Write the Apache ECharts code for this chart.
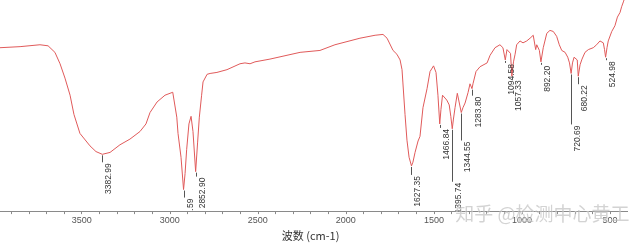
<!DOCTYPE html>
<html><head><meta charset="utf-8">
<script src="https://cdn.jsdelivr.net/npm/echarts@6/dist/echarts.min.js"></script>
<style>
html,body{margin:0;padding:0;background:#fff;overflow:hidden;width:640px;height:246px;}
#wrap{position:relative;width:640px;height:246px;overflow:hidden;}
#chart{position:absolute;left:-7px;top:0;width:647px;height:246px;}
</style></head>
<body><div id="wrap"><div id="chart"></div></div>
<script>
// Wavenumber (cm-1) of traced points, high to low
var wavenumbers = [3964,3850,3737,3691,3652,3623,3595,3566,3544,3510,3453,3419,3382.99,3339,3283,3226,3169,3135,3112,3072,3027,2983,2960,2953,2945,2936,2921.59,2913,2904,2891,2879,2868,2852.90,2842,2832,2819,2811,2788,2771,2732,2675,2601,2573,2544,2516,2431,2260,2147,2062,1920,1834,1789,1766,1732,1710,1692,1681,1676,1664,1653,1641,1627.35,1619,1607,1590,1579,1562,1539,1522,1502,1488,1477,1466.84,1460,1451,1443,1427,1413,1404,1395.74,1389,1380,1367,1356,1344.55,1335,1323,1306,1295,1288,1283.80,1278,1261,1238,1198,1181,1153,1125,1108,1094.58,1085,1074,1065,1057.33,1048,1039,1030,1011,994,973,954,936,926,922,916,901,892.20,879,859,841,822,803,788,774,755,740,730,720.69,713,704,693,686,680.22,670,659,642,623,595,576,557,538,531,524.98,517,510,490,472,458,443,434,424,415,400];
// Transmittance (%, arbitrary scale) at those points
var transmittance = [77.4,77.9,78.8,78.3,75.2,69.8,63.0,54.9,45.8,36.8,30.9,28.2,26.9,27.8,31.4,34.1,37.7,41.3,46.7,51.7,54.9,56.3,44.5,36.8,36.3,25.5,10.2,17.8,29.1,41.3,44.9,37.7,18.7,32.3,44.5,54.9,61.2,64.8,65.2,65.7,67.0,69.8,70.2,69.8,70.7,72.0,75.2,76.1,78.8,81.9,83.3,83.7,81.9,76.1,74.3,71.6,67.0,60.7,45.8,33.6,25.5,21.4,23.2,27.8,33.2,35.4,49.0,58.0,66.1,68.8,65.7,54.9,41.3,48.1,54.9,54.9,52.6,50.3,44.9,39.0,43.6,49.0,55.8,54.9,46.7,49.0,51.2,56.2,60.3,61.2,58.0,60.3,66.1,68.4,70.2,73.8,77.4,78.8,77.4,71.6,76.5,77.4,74.7,63.9,70.7,74.3,78.8,80.6,79.7,80.6,81.9,83.3,82.8,76.5,78.8,76.1,70.7,77.4,84.2,85.6,85.1,82.8,78.8,76.1,75.2,72.9,70.2,65.2,70.2,72.9,73.8,71.6,63.9,69.3,72.0,75.2,76.5,77.4,78.8,80.6,79.7,76.5,72.9,77.4,80.6,85.1,87.8,91.9,94.1,96.8,99.1,101.4,104.5];
// Labelled peaks (cm-1)
var peakWavenumbers = [3382.99,2921.59,2852.90,1627.35,1466.84,1395.74,1344.55,1283.80,1094.58,1057.33,892.20,720.69,680.22,524.98];
// Axis tick labels
var tickLabels = ['3500','3000','2500','2000','1500','1000','500'];
var axisTitle = '波数 (cm-1)';
var watermark = '知乎 @检测中心黄工';

// layout: leader-line lengths (px) below each peak
var leaderLengths = [8,8,5,9,4,53,28,7,3,3,3,51,8,3];

var spectrum = wavenumbers.map(function(w,i){return [w, transmittance[i]];});
var peaks = peakWavenumbers.map(function(w){
  var idx = wavenumbers.indexOf(w);
  return [w, transmittance[idx]];
});
var labelValues = tickLabels.map(Number);
var tickValues = [];
for (var t = 500; t < 4000; t += 100) tickValues.push(t);

var chart = echarts.init(document.getElementById('chart'), null, {renderer:'canvas'});
chart.setOption({
  animation:false,
  backgroundColor:'#fff',
  grid:{left:0.65, right:12.39, top:0, bottom:24.5, containLabel:false},
  xAxis:{
    type:'value', min:400, max:4000, inverse:true,
    name: axisTitle, nameLocation:'middle', nameGap:18,
    nameTextStyle:{color:'#333', fontSize:11, fontFamily:'"Noto Sans CJK SC", sans-serif'},
    axisLine:{show:true, onZero:false, lineStyle:{color:'#8a8a8a', width:1}},
    axisTick:{show:true, customValues:tickValues, length:3, lineStyle:{color:'#8a8a8a'}},
    axisLabel:{show:true, customValues:labelValues, margin:5, color:'#555', fontSize:9, fontFamily:'"Liberation Sans", sans-serif',
      formatter:function(v){return String(v);}},
    splitLine:{show:false}
  },
  yAxis:{type:'value', min:0, max:100, show:false, splitLine:{show:false}},
  graphic:[{
    type:'text', left:462, top:204, silent:true, z:100,
    style:{text:watermark, font:'19px "Noto Sans CJK SC"', fill:'rgba(175,175,175,0.55)', stroke:'rgba(255,255,255,0.6)', lineWidth:0.5}
  }],
  series:[
    {type:'line', data:spectrum, showSymbol:false, symbol:'none', clip:true,
     lineStyle:{color:'#e05a5a', width:1}, z:3},
    {type:'custom', data:peaks, clip:true, z:4,
     encode:{x:0, y:1},
     renderItem:function(params, api){
       var w = api.value(0), tv = api.value(1);
       var p = api.coord([w, tv]);
       var x = Math.round(p[0]) + 0.5;
       var y0 = p[1] + 1;
       var y1 = p[1] + leaderLengths[params.dataIndex];
       return {type:'group', children:[
         {type:'line', shape:{x1:x, y1:y0, x2:x, y2:y1}, style:{stroke:'#555', lineWidth:1}},
         {type:'text', x:x+1.2, y:y1+1, rotation:Math.PI/2,
          style:{text:w.toFixed(2), align:'right', verticalAlign:'top', fill:'#333',
                 font:'8.5px "Liberation Sans"'}}
       ]};
     }}
  ]
});
</script></body></html>
